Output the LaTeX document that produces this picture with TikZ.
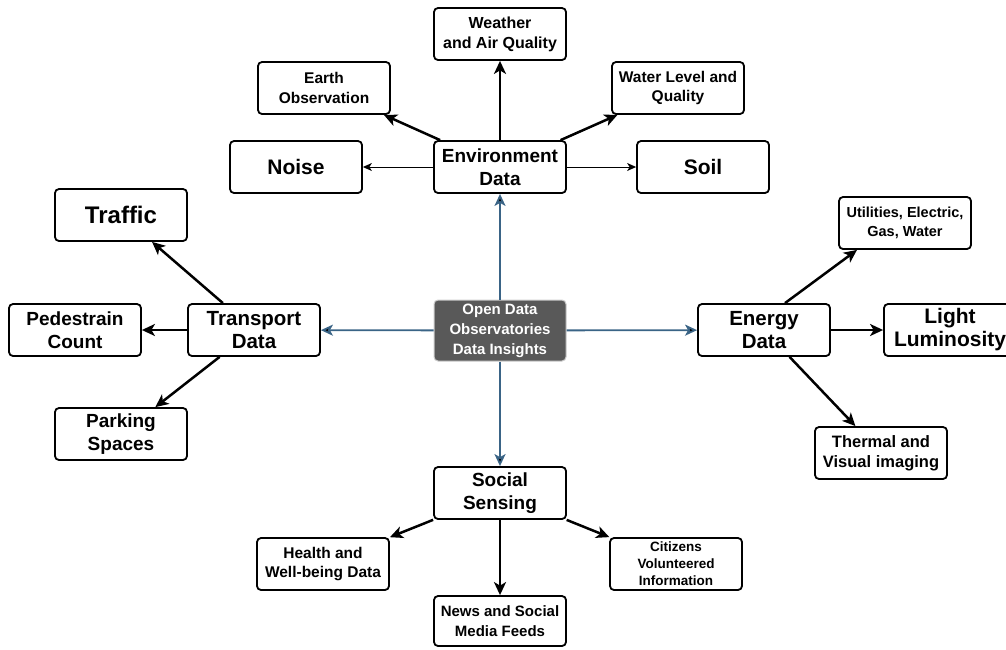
\documentclass[tikz,border=0pt]{standalone}
\usepackage{fontspec}
\setmainfont{Liberation Sans}
\usetikzlibrary{arrows.meta}
\definecolor{hubgray}{HTML}{595959}
\definecolor{linkblue}{HTML}{3A6486}
\tikzstyle{block} = [rectangle, draw, rounded corners=4pt, line width=1.8pt, minimum width=132pt, minimum height=52pt, inner sep=0pt, align=center, font=\bfseries\fontsize{15.5}{19.5}\selectfont]
\tikzstyle{mainblock} = [block, font=\bfseries\fontsize{19}{23}\selectfont]
\tikzstyle{bigblock} = [block, font=\bfseries\fontsize{21}{24}\selectfont]
\tikzstyle{hub} = [block, fill=hubgray, draw=gray!40, line width=1pt, text=white, minimum height=61pt, font=\bfseries\fontsize{15}{20}\selectfont]
\tikzstyle{feed} = [-{Stealth[length=13pt,width=12pt,inset=3.5pt]}, line width=2.5pt]
\tikzstyle{thinfeed} = [-{Stealth[length=9pt,width=8pt,inset=2.5pt]}, line width=1pt]
\tikzstyle{link} = [-{Stealth[length=12pt,width=11pt,inset=3pt]}, draw=linkblue, line width=1.8pt]

\begin{document}
\begin{tikzpicture}[x=1pt,y=1pt]
  \useasboundingbox (0,0) rectangle (1006,-649);
  % centre
  \draw (500,-330.5)node[hub](hub){Open Data\\Observatories\\Data Insights};
  % environment
  \draw (500,-167)node[mainblock](env){Environment\\Data};
  \draw (500,-34)node[block, font=\bfseries\fontsize{16}{20}\selectfont](wea){Weather\\and Air Quality};
  \draw (324,-88)node[block](eo){Earth\\Observation};
  \draw (678,-88)node[block](wat){Water Level and\\Quality};
  \draw (296,-167)node[bigblock](noi){Noise};
  \draw (703,-167)node[bigblock](soil){Soil};
  % transport
  \draw (254,-330)node[mainblock, font=\bfseries\fontsize{20.5}{23}\selectfont](tr){Transport\\Data};
  \draw (121,-215)node[bigblock, font=\bfseries\fontsize{24}{26}\selectfont](traf){Traffic};
  \draw (75,-330)node[block, font=\bfseries\fontsize{19}{23}\selectfont](ped){Pedestrain\\Count};
  \draw (121,-434)node[block, font=\bfseries\fontsize{19}{23}\selectfont](park){Parking\\Spaces};
  % energy
  \draw (764,-330)node[mainblock, font=\bfseries\fontsize{20.5}{23}\selectfont](en){Energy\\Data};
  \draw (905,-223)node[block, font=\bfseries\fontsize{14.5}{19}\selectfont](util){Utilities, Electric,\\Gas, Water};
  \draw (950,-330)node[mainblock, font=\bfseries\fontsize{21}{23}\selectfont](lum){Light\\Luminosity};
  \draw (881,-453)node[block, font=\bfseries\fontsize{16.5}{20}\selectfont](th){Thermal and\\Visual imaging};
  % social
  \draw (500,-493)node[mainblock](soc){Social\\Sensing};
  \draw (323,-564)node[block](hea){Health and\\Well-being Data};
  \draw (500,-621)node[block, minimum height=50pt, font=\bfseries\fontsize{15}{19.5}\selectfont](news){News and Social\\Media Feeds};
  \draw (676,-564)node[block, font=\bfseries\fontsize{13.5}{17}\selectfont](cit){Citizens\\Volunteered\\Information};

  \path[link] (hub) edge (env);
  \path[link] (hub) edge (tr);
  \path[link] (hub) edge (en);
  \path[link] (hub) edge (soc);

  \path[feed] (env) edge (wea);
  \path[feed] (env) edge (eo);
  \path[feed] (env) edge (wat);
  \path[thinfeed] (env) edge (noi);
  \path[thinfeed] (env) edge (soil);

  \path[feed] (tr) edge (traf);
  \path[feed] (tr) edge (ped);
  \path[feed] (tr) edge (park);

  \path[feed] ([xshift=21pt]en.north) edge ([xshift=-48pt]util.south);
  \path[feed] (en) edge (lum);
  \path[feed] (en) edge (th);

  \path[feed] (soc) edge (hea);
  \path[feed] (soc) edge (news);
  \path[feed] (soc) edge (cit);
\end{tikzpicture}
\end{document}
